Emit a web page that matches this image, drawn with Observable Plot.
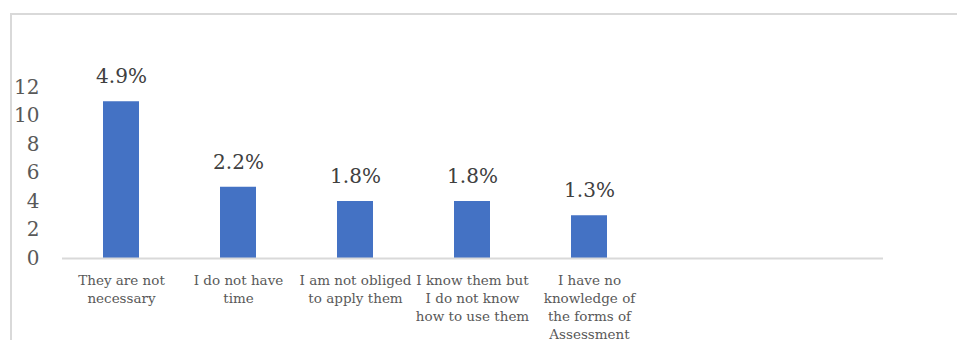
<!DOCTYPE html>
<html>
<head>
<meta charset="utf-8">
<script src="https://cdn.jsdelivr.net/npm/d3@7"></script>
<script src="https://cdn.jsdelivr.net/npm/@observablehq/plot@0.6"></script>
<style>
  html, body { margin: 0; padding: 0; background: #fff; }
  #wrap { position: relative; width: 957px; height: 340px; overflow: hidden; }
  #frame { position: absolute; left: 10px; top: 13px; width: 960px; height: 340px;
           border-top: 2px solid #d9d9d9; border-left: 2px solid #d9d9d9; }
  #chart { position: absolute; left: 0; top: 0; }
</style>
</head>
<body>
<div id="wrap"><div id="frame"></div><div id="chart"></div></div>
<script>
const categories = [
  "They are not\nnecessary",
  "I do not have\ntime",
  "I am not obliged\nto apply them",
  "I know them but\nI do not know\nhow to use them",
  "I have no\nknowledge of\nthe forms of\nAssessment"
];
const emptySlots = [" ", "  "];
const values = [11, 5, 4, 4, 3];
const percentLabels = ["4.9%", "2.2%", "1.8%", "1.8%", "1.3%"];
const yTicks = [0, 2, 4, 6, 8, 10, 12];

const data = categories.map((c, i) => ({cat: c, value: values[i], label: percentLabels[i]}));
const font = "'DejaVu Serif', serif";

const chart = Plot.plot({
  width: 957,
  height: 340,
  marginLeft: 62,
  marginRight: 74,
  marginTop: 87,
  marginBottom: 82,
  style: {fontFamily: font, background: "transparent", overflow: "visible"},
  x: {domain: [...categories, ...emptySlots], paddingInner: 0.69, paddingOuter: 0.345, align: 0.5},
  y: {domain: [0, 12]},
  marks: [
    Plot.axisY({ticks: yTicks, tickSize: 0, tickPadding: 23, fontSize: 20, fill: "#595959", label: null}),
    Plot.axisX({tickSize: 0, tickPadding: 14, fontSize: 13.5, fill: "#595959", label: null, lineHeight: 1.32, textAnchor: "middle", lineAnchor: "top"}),
    Plot.barY(data, {x: "cat", y: "value", fill: "#4472C4"}),
    Plot.ruleY([0], {stroke: "#d9d9d9", strokeWidth: 2}),
    Plot.text(data, {x: "cat", y: "value", text: "label", dy: -25, fontSize: 20, fill: "#404040", lineAnchor: "middle"})
  ]
});
document.getElementById("chart").appendChild(chart);
</script>
</body>
</html>
